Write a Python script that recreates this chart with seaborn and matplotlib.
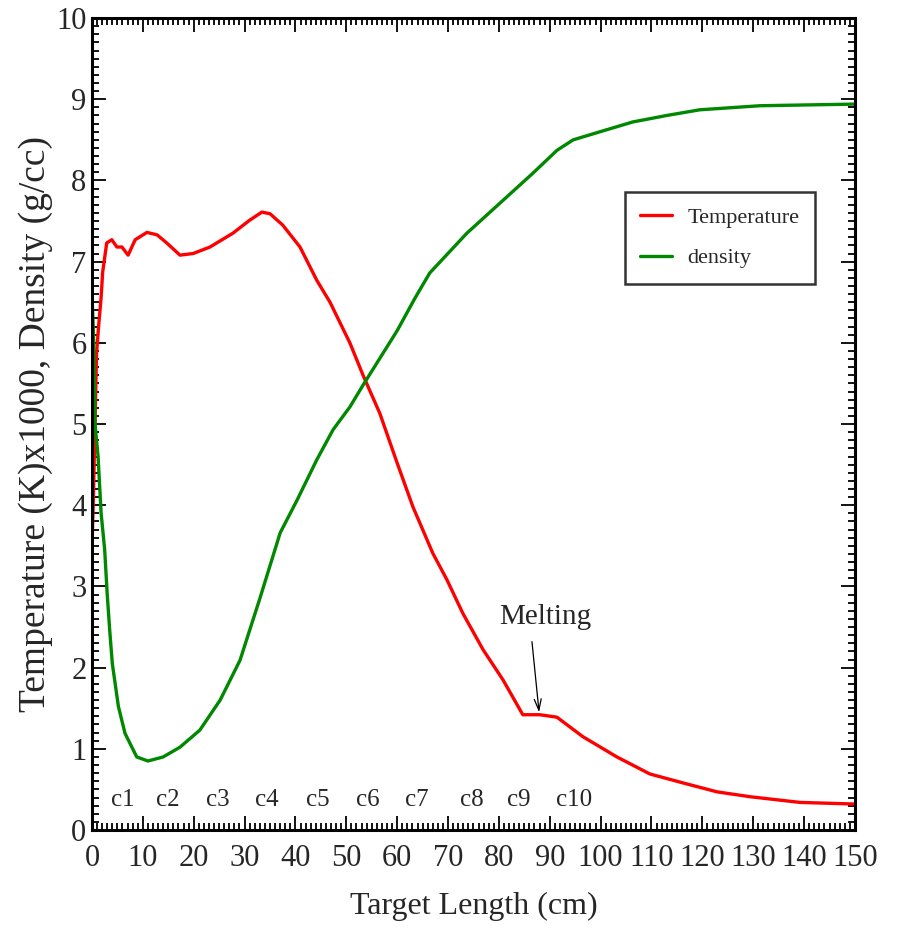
import numpy as np
import pandas as pd
import matplotlib
matplotlib.use("Agg")
import matplotlib.pyplot as plt
import seaborn as sns

# ---- data ----
temp_x = [0, 0.3, 0.9, 1.3, 1.8, 2.1, 2.9, 3.9, 4.9, 5.9, 7.1, 8.5, 10.8, 12.8, 14.7,
          17.3, 19.9, 23.2, 27.7, 31, 33.4, 35, 37.5, 40.9, 44.2, 46.8, 50.7, 53.3,
          56.6, 60, 63.1, 67, 69.8, 72.9, 76.9, 80.8, 84.7, 88, 91.4, 96.5, 103.2,
          109.7, 116.2, 122.9, 129.4, 139.2, 150]
temp_y = [3.47, 4.15, 5.87, 6.2, 6.56, 6.87, 7.23, 7.27, 7.18, 7.18, 7.08, 7.27, 7.36,
          7.33, 7.23, 7.08, 7.1, 7.18, 7.35, 7.51, 7.61, 7.59, 7.45, 7.18, 6.77, 6.5,
          6.0, 5.6, 5.13, 4.52, 3.98, 3.41, 3.08, 2.67, 2.22, 1.85, 1.42, 1.42, 1.39,
          1.15, 0.9, 0.69, 0.58, 0.47, 0.41, 0.34, 0.32]

dens_x = [0, 0.3, 0.6, 1.2, 1.8, 2.5, 3.0, 3.5, 4.0, 5.2, 6.5, 8.8, 11, 14, 17.3,
          21.2, 25.2, 29.1, 33, 37, 40.3, 44.2, 47.4, 50.7, 53.3, 56, 60, 63.5, 66.4,
          73.7, 80.2, 86.7, 91.4, 94.6, 99.9, 106.3, 113, 119.5, 131.3, 150]
dens_y = [6.6, 6.1, 5.0, 4.6, 3.9, 3.45, 2.9, 2.45, 2.05, 1.52, 1.19, 0.90, 0.85,
          0.9, 1.02, 1.23, 1.6, 2.09, 2.85, 3.66, 4.06, 4.56, 4.93, 5.21, 5.48, 5.75,
          6.15, 6.55, 6.86, 7.35, 7.72, 8.09, 8.37, 8.5, 8.6, 8.72, 8.8, 8.87, 8.92, 8.94]

zone_labels = ['c1', 'c2', 'c3', 'c4', 'c5', 'c6', 'c7', 'c8', 'c9', 'c10']
zone_x = [6.1, 15, 24.8, 34.4, 44.4, 54.3, 63.9, 74.7, 84, 94.8]

# ---- style ----
sns.set_style("ticks")
plt.rcParams['font.family'] = ['Liberation Serif', 'DejaVu Serif']

fig = plt.figure(figsize=(8.99, 9.30), dpi=100)
ax = fig.add_axes([0.1023, 0.1075, 0.8487, 0.8731])

df_t = pd.DataFrame({'x': temp_x, 'y': temp_y})
df_d = pd.DataFrame({'x': dens_x, 'y': dens_y})
sns.lineplot(data=df_t, x='x', y='y', ax=ax, color='#ff0000', lw=2.4,
             label='Temperature', sort=False)
sns.lineplot(data=df_d, x='x', y='y', ax=ax, color='#008800', lw=2.4,
             label='density', sort=False)

ax.set_xlim(0, 150)
ax.set_ylim(0, 10)
ax.set_xticks(np.arange(0, 151, 10))
ax.set_xticks(np.arange(0, 151, 1), minor=True)
ax.set_yticks(np.arange(0, 11, 1))
ax.set_yticks(np.arange(0, 10.01, 0.1), minor=True)
ax.tick_params(which='both', direction='in', top=True, right=True,
               color='black', labelsize=22, width=1.3)
ax.tick_params(which='major', length=10)
ax.tick_params(which='minor', length=5)
ax.tick_params(axis='x', pad=10)
ax.tick_params(axis='y', pad=4)
for s in ax.spines.values():
    s.set_linewidth(2.2)
    s.set_color('black')

ax.set_xlabel('Target Length (cm)', fontsize=23, labelpad=14)
ax.set_ylabel('Temperature (K)x1000, Density (g/cc)', fontsize=27, labelpad=2)

for lab, xv in zip(zone_labels, zone_x):
    ax.text(xv, 0.37, lab, fontsize=18, ha='center', va='center')

ax.text(89.2, 2.62, 'Melting', fontsize=21, ha='center', va='center')
ax.annotate('', xy=(87.9, 1.45), xytext=(86.5, 2.32),
            arrowprops=dict(arrowstyle='->,head_length=0.8,head_width=0.25',
                            color='black', lw=0.9, shrinkA=0, shrinkB=0))

leg = ax.legend(loc='upper left', bbox_to_anchor=(0.6985, 0.786), fontsize=16,
                frameon=True, fancybox=False, edgecolor='black',
                borderaxespad=0, handlelength=1.4, handletextpad=0.7,
                borderpad=0.7, labelspacing=0.9)
leg.get_frame().set_linewidth(1.8)

fig.savefig('out.png', dpi=100)
